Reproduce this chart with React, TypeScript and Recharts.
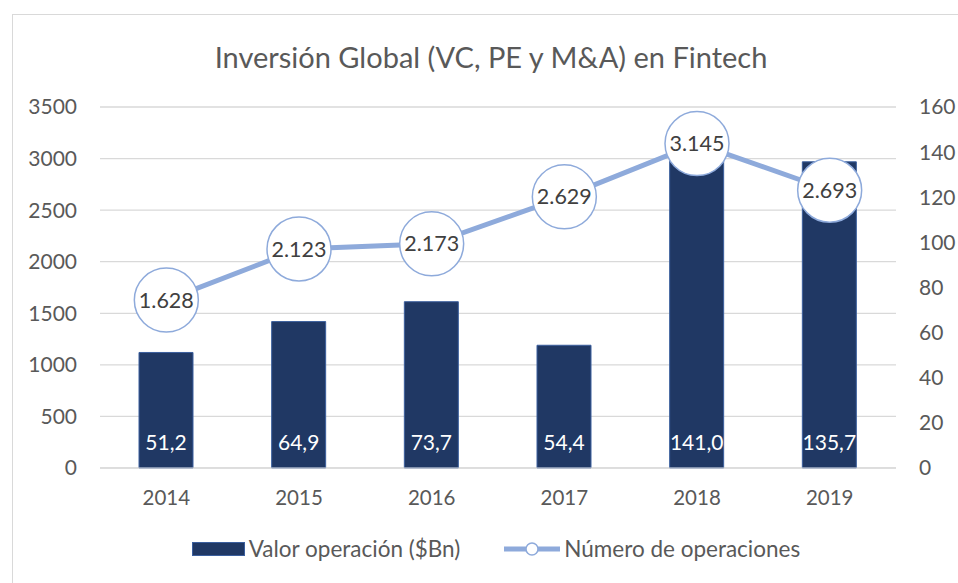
import React from "react";
import {
  ComposedChart,
  Bar,
  Line,
  XAxis,
  YAxis,
  CartesianGrid,
  Legend,
  LabelList,
} from "recharts";

const years = ["2014", "2015", "2016", "2017", "2018", "2019"];
const valorOperacion = [51.2, 64.9, 73.7, 54.4, 141.0, 135.7];
const numeroOperaciones = [1628, 2123, 2173, 2629, 3145, 2693];
const leftTicks = [0, 500, 1000, 1500, 2000, 2500, 3000, 3500];
const rightTicks = [0, 20, 40, 60, 80, 100, 120, 140, 160];

const data = years.map((year, i) => ({
  year,
  valor: valorOperacion[i],
  ops: numeroOperaciones[i],
}));

const NAVY = "#203864";
const LIGHT = "#8eaadb";
const GREY = "#595959";

const fmtOps = (v: number) => v.toLocaleString("de-DE");
const fmtValor = (v: number) => v.toFixed(1).replace(".", ",");

const BarLabel = (props: any) => {
  const { x, y, width, height, value } = props;
  return (
    <text
      x={x + width / 2}
      y={y + height - 25}
      dy="0.35em"
      textAnchor="middle"
      fill="#ffffff"
      fontSize={21}
    >
      {fmtValor(value)}
    </text>
  );
};

const BubbleLabel = (props: any) => {
  const { x, y, value } = props;
  return (
    <g>
      <circle cx={x} cy={y} r={32} fill="#ffffff" stroke={LIGHT} strokeWidth={1.5} />
      <text x={x} y={y} dy="0.35em" textAnchor="middle" fill="#404040" fontSize={21.5}>
        {fmtOps(value)}
      </text>
    </g>
  );
};

const LegendContent = (props: any) => {
  const payload = [...(props.payload || [])].sort((a: any, b: any) =>
    a.type === "rect" ? -1 : b.type === "rect" ? 1 : 0
  );
  return (
    <div style={{ display: "flex", justifyContent: "center", alignItems: "center", gap: 44, paddingLeft: 10 }}>
      {payload.map((entry: any) => (
        <div key={entry.value} style={{ display: "flex", alignItems: "center", gap: 4 }}>
          {entry.type === "rect" ? (
            <span
              style={{
                display: "inline-block",
                width: 51,
                height: 12,
                background: NAVY,
                border: "1px solid #3b5f9e",
              }}
            />
          ) : (
            <svg width={56} height={16}>
              <line x1={0} y1={8} x2={56} y2={8} stroke={LIGHT} strokeWidth={5} />
              <circle cx={28} cy={8} r={6} fill="#fff" stroke={LIGHT} strokeWidth={1.5} />
            </svg>
          )}
          <span style={{ color: GREY, fontSize: 22.5 }}>{entry.value}</span>
        </div>
      ))}
    </div>
  );
};

export default function App() {
  return (
    <div
      style={{
        position: "absolute",
        left: 0,
        top: 0,
        width: 958,
        height: 583,
        background: "#fff",
        fontFamily: "Lato, 'Open Sans', sans-serif",
        overflow: "hidden",
      }}
    >
      <div
        style={{
          position: "absolute",
          left: 12,
          top: 14,
          width: 980,
          height: 600,
          border: "1.5px solid #d9d9d9",
          boxSizing: "border-box",
        }}
      />
      <div
        style={{
          position: "absolute",
          left: 0,
          width: 982,
          top: 39,
          lineHeight: "36px",
          textAlign: "center",
          fontSize: 29,
          color: GREY,
        }}
      >
        Inversión Global (VC, PE y M&amp;A) en Fintech
      </div>
      <ComposedChart
        width={958}
        height={583}
        data={data}
        margin={{ top: 107, right: 0, bottom: 85, left: 0 }}
        style={{ position: "absolute", left: 0, top: 0 }}
      >
        <CartesianGrid yAxisId="left" vertical={false} stroke="#d9d9d9" strokeWidth={1.3} />
        <XAxis
          dataKey="year"
          axisLine={{ stroke: "#d9d9d9" }}
          tickLine={false}
          tickMargin={16}
          tick={{ fill: GREY, fontSize: 20.5 }}
        />
        <YAxis
          yAxisId="left"
          orientation="left"
          width={100}
          domain={[0, 3500]}
          ticks={leftTicks}
          axisLine={false}
          tickLine={false}
          tickMargin={17}
          tick={{ fill: GREY, fontSize: 21 }}
        />
        <YAxis
          yAxisId="right"
          orientation="right"
          width={62}
          domain={[0, 160]}
          ticks={rightTicks}
          axisLine={false}
          tickLine={false}
          tickMargin={17}
          tick={{ fill: GREY, fontSize: 21, textAnchor: "start" }}
        />
        <Bar
          yAxisId="right"
          dataKey="valor"
          name="Valor operación ($Bn)"
          fill={NAVY}
          stroke="#3b5f9e"
          strokeWidth={1}
          barSize={54}
          legendType="rect"
          isAnimationActive={false}
        >
          <LabelList dataKey="valor" content={BarLabel} />
        </Bar>
        <Line
          yAxisId="left"
          type="linear"
          dataKey="ops"
          name="Número de operaciones"
          stroke={LIGHT}
          strokeWidth={5}
          dot={false}
          legendType="line"
          isAnimationActive={false}
        >
          <LabelList dataKey="ops" content={BubbleLabel} />
        </Line>
        <Legend
          layout="vertical"
          verticalAlign="middle"
          align="center"
          content={LegendContent}
          wrapperStyle={{ position: "absolute", left: 0, top: 535, bottom: "auto", width: 982, height: 32 }}
        />
      </ComposedChart>
    </div>
  );
}
